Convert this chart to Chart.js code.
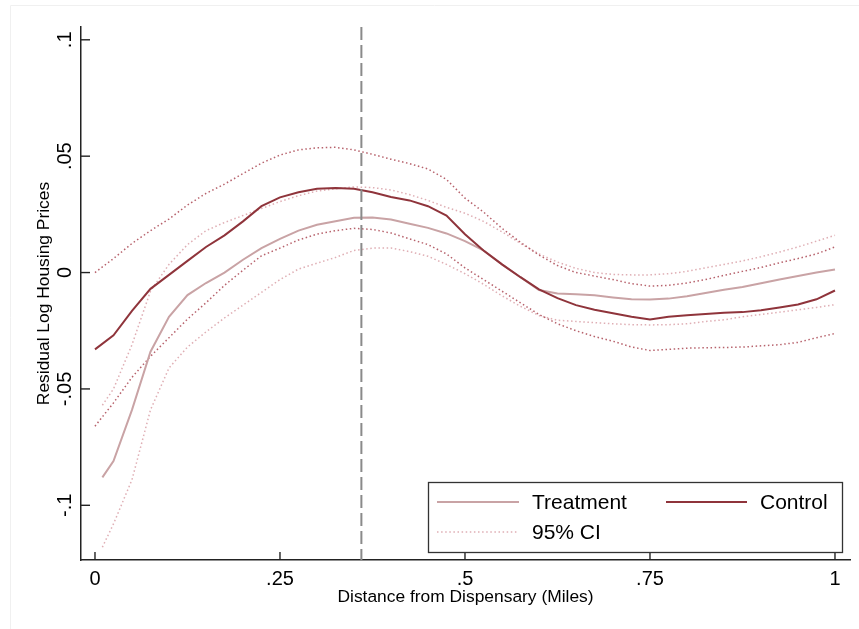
<!DOCTYPE html>
<html>
<head>
<meta charset="utf-8">
<script src="https://cdn.jsdelivr.net/npm/chart.js@4.4.1/dist/chart.umd.min.js"></script>
<style>
  html, body { margin: 0; padding: 0; background: #fff; }
  #wrap { position: relative; width: 859px; height: 629px; }
</style>
</head>
<body>
<div id="wrap"><canvas id="chart"></canvas></div>
<script>
// distance grid (miles)
const dist = [0, .025, .05, .075, .1, .125, .15, .175, .2, .225, .25, .275, .3, .325, .35, .375, .4, .425, .45, .475,
  .5, .525, .55, .575, .6, .625, .65, .675, .7, .725, .75, .775, .8, .825, .85, .875, .9, .925, .95, .975, 1];
const treatDist = [.01, .025, .05, .075, .1, .125, .15, .175, .2, .225, .25, .275, .3, .325, .35, .375, .4, .425, .45, .475,
  .5, .525, .55, .575, .6, .625, .65, .675, .7, .725, .75, .775, .8, .825, .85, .875, .9, .925, .95, .975, 1];

const controlFit = [-0.033, -0.027, -0.0165, -0.007, -0.001, 0.005, 0.011, 0.016, 0.022, 0.0285,
  0.0323, 0.0345, 0.036, 0.0363, 0.036, 0.0345, 0.0325, 0.031, 0.0285, 0.0245,
  0.0165, 0.0095, 0.0035, -0.002, -0.0072, -0.011, -0.014, -0.016, -0.0175, -0.019,
  -0.0202, -0.019, -0.0183, -0.0178, -0.0173, -0.017, -0.0162, -0.015, -0.0137, -0.0115, -0.0077];
const controlUpper = [0.0, 0.006, 0.0125, 0.018, 0.023, 0.029, 0.034, 0.038, 0.0425, 0.047,
  0.0505, 0.0527, 0.0536, 0.0538, 0.0527, 0.0508, 0.0487, 0.0468, 0.0445, 0.040,
  0.032, 0.026, 0.019, 0.013, 0.0075, 0.003, 0.0, -0.0015, -0.003, -0.0048,
  -0.0058, -0.0055, -0.0045, -0.003, -0.0012, 0.0005, 0.0022, 0.0042, 0.006, 0.008, 0.011];
const controlLower = [-0.066, -0.056, -0.045, -0.036, -0.028, -0.020, -0.013, -0.0055, 0.001, 0.0072,
  0.0105, 0.014, 0.0165, 0.018, 0.019, 0.0185, 0.017, 0.0145, 0.012, 0.008,
  0.002, -0.003, -0.008, -0.013, -0.018, -0.022, -0.025, -0.0275, -0.0295, -0.032,
  -0.0335, -0.033, -0.0325, -0.0323, -0.0322, -0.032, -0.0315, -0.031, -0.030, -0.028, -0.0262];

const treatFit = [-0.088, -0.081, -0.059, -0.034, -0.019, -0.0097, -0.0045, 0.0, 0.0055, 0.0105,
  0.0145, 0.018, 0.0205, 0.022, 0.0235, 0.0237, 0.0228, 0.021, 0.0192, 0.0168,
  0.0135, 0.0095, 0.0035, -0.002, -0.0075, -0.009, -0.0093, -0.0098, -0.0107, -0.0115,
  -0.0116, -0.0112, -0.0102, -0.0088, -0.0074, -0.0062, -0.0046, -0.003, -0.0015, 0.0, 0.0013];
const treatUpper = [-0.057, -0.050, -0.031, -0.008, 0.0035, 0.012, 0.018, 0.0215, 0.0245, 0.0275,
  0.0305, 0.033, 0.035, 0.036, 0.0368, 0.0365, 0.0355, 0.0335, 0.031, 0.028,
  0.0255, 0.022, 0.0175, 0.0125, 0.008, 0.0045, 0.0018, 0.0, -0.0008, -0.001,
  -0.001, -0.0005, 0.0005, 0.002, 0.0035, 0.005, 0.0068, 0.0088, 0.011, 0.0135, 0.016];
const treatLower = [-0.118, -0.108, -0.089, -0.059, -0.041, -0.032, -0.0255, -0.0195, -0.014, -0.0085,
  -0.003, 0.0015, 0.004, 0.0065, 0.0095, 0.0105, 0.0105, 0.009, 0.007, 0.0035,
  -0.0005, -0.005, -0.01, -0.0145, -0.0185, -0.0205, -0.021, -0.0215, -0.022, -0.0224,
  -0.0225, -0.0224, -0.022, -0.021, -0.0203, -0.019, -0.018, -0.017, -0.016, -0.015, -0.0138];

const cutoff = 0.36;
const xTicks = [0, 0.25, 0.5, 0.75, 1];
const xTickLabels = ['0', '.25', '.5', '.75', '1'];
const yTicks = [-0.1, -0.05, 0, 0.05, 0.1];
const yTickLabels = ['-.1', '-.05', '0', '.05', '.1'];

const FONT = "'Liberation Sans', Arial, sans-serif";
const controlColor = '#8f343b';
const treatColor = '#c9a3a5';
const controlCIColor = 'rgba(170, 70, 82, 0.85)';
const treatCIColor = 'rgba(220, 165, 172, 0.9)';

function pts(xs, ys) {
  return xs.map((x, i) => ({ x: x, y: ys[i] }));
}

function dotted(label, xs, ys, color) {
  return {
    label: label, data: pts(xs, ys), borderColor: color, borderWidth: 1.5,
    borderDash: [1.5, 2.6], pointRadius: 0, tension: 0
  };
}

const yMin = -0.1235, yMax = 0.1055;

const extras = {
  id: 'extras',
  beforeDraw(chart) {
    const c = chart.ctx;
    c.save();
    c.strokeStyle = '#f0f0f0';
    c.lineWidth = 1;
    c.beginPath();
    c.moveTo(10.5, 629);
    c.lineTo(10.5, 5.5);
    c.lineTo(859, 5.5);
    c.stroke();
    c.restore();
  },
  afterDraw(chart) {
    const c = chart.ctx;
    const { x, y } = chart.scales;
    const area = chart.chartArea;
    c.save();
    // inward tick marks
    c.strokeStyle = '#222';
    c.lineWidth = 1.4;
    xTicks.forEach(v => {
      const px = x.getPixelForValue(v);
      c.beginPath();
      c.moveTo(px, area.bottom);
      c.lineTo(px, area.bottom - 8);
      c.stroke();
    });
    yTicks.forEach(v => {
      const py = y.getPixelForValue(v);
      c.beginPath();
      c.moveTo(area.left, py);
      c.lineTo(area.left + 9, py);
      c.stroke();
    });
    // rotated y tick labels
    c.fillStyle = '#000';
    c.font = '20px ' + FONT;
    c.textAlign = 'center';
    c.textBaseline = 'middle';
    yTicks.forEach((v, i) => {
      const py = y.getPixelForValue(v);
      c.save();
      c.translate(65.5, py);
      c.rotate(-Math.PI / 2);
      c.fillText(yTickLabels[i], 0, 0);
      c.restore();
    });
    // legend
    c.fillStyle = '#fff';
    c.fillRect(428.5, 482.5, 414, 70);
    c.strokeStyle = '#333';
    c.lineWidth = 1.3;
    c.strokeRect(428.5, 482.5, 414, 70);
    const sample = (x0, x1, yy, color, w, dash) => {
      c.beginPath();
      c.setLineDash(dash);
      c.strokeStyle = color;
      c.lineWidth = w;
      c.moveTo(x0, yy);
      c.lineTo(x1, yy);
      c.stroke();
      c.setLineDash([]);
    };
    sample(437, 519, 502, treatColor, 2, []);
    sample(666, 747, 502, controlColor, 2, []);
    sample(437, 519, 532, treatCIColor, 1.5, [1.5, 2.6]);
    c.fillStyle = '#000';
    c.font = '21px ' + FONT;
    c.textAlign = 'left';
    c.textBaseline = 'middle';
    c.fillText('Treatment', 532, 503);
    c.fillText('Control', 760, 503);
    c.fillText('95% CI', 532, 533);
    c.restore();
  }
};

new Chart(document.getElementById('chart'), {
  type: 'line',
  data: {
    datasets: [
      {
        label: 'cutoff', data: [{ x: cutoff, y: yMax }, { x: cutoff, y: yMin }],
        borderColor: '#8a8a8a', borderWidth: 2, borderDash: [13, 5], pointRadius: 0
      },
      { label: 'Control', data: pts(dist, controlFit), borderColor: controlColor, borderWidth: 2, pointRadius: 0, tension: 0 },
      { label: 'Treatment', data: pts(treatDist, treatFit), borderColor: treatColor, borderWidth: 2, pointRadius: 0, tension: 0 },
      dotted('Control upper', dist, controlUpper, controlCIColor),
      dotted('Control lower', dist, controlLower, controlCIColor),
      dotted('Treatment upper', treatDist, treatUpper, treatCIColor),
      dotted('Treatment lower', treatDist, treatLower, treatCIColor)
    ]
  },
  options: {
    responsive: true,
    maintainAspectRatio: false,
    animation: false,
    layout: { padding: { left: 0, top: 27, right: 9, bottom: 0 } },
    plugins: { legend: { display: false }, tooltip: { enabled: false } },
    scales: {
      x: {
        type: 'linear',
        min: -0.0189, max: 1.0203,
        afterBuildTicks: s => { s.ticks = xTicks.map(v => ({ value: v })); },
        afterFit: s => { s.height = 69; },
        grid: { display: false, drawTicks: false },
        border: { display: true, color: '#222', width: 1.5 },
        ticks: {
          autoSkip: false, maxRotation: 0, padding: 7, color: '#000',
          font: { family: FONT, size: 20 },
          callback: v => xTickLabels[xTicks.indexOf(v)]
        },
        title: {
          display: true, text: 'Distance from Dispensary (Miles)', color: '#000',
          font: { family: FONT, size: 17.4 }, padding: { top: 0, bottom: 21.6 }
        }
      },
      y: {
        type: 'linear',
        min: yMin, max: yMax,
        afterBuildTicks: s => { s.ticks = yTicks.map(v => ({ value: v })); },
        afterFit: s => { s.width = 81; },
        grid: { display: false, drawTicks: false },
        border: { display: true, color: '#222', width: 1.5 },
        ticks: { display: false },
        title: {
          display: true, text: 'Residual Log Housing Prices', color: '#000',
          font: { family: FONT, size: 17.4 }, padding: { top: 34, bottom: 0 }
        }
      }
    }
  },
  plugins: [extras]
});
</script>
</body>
</html>
